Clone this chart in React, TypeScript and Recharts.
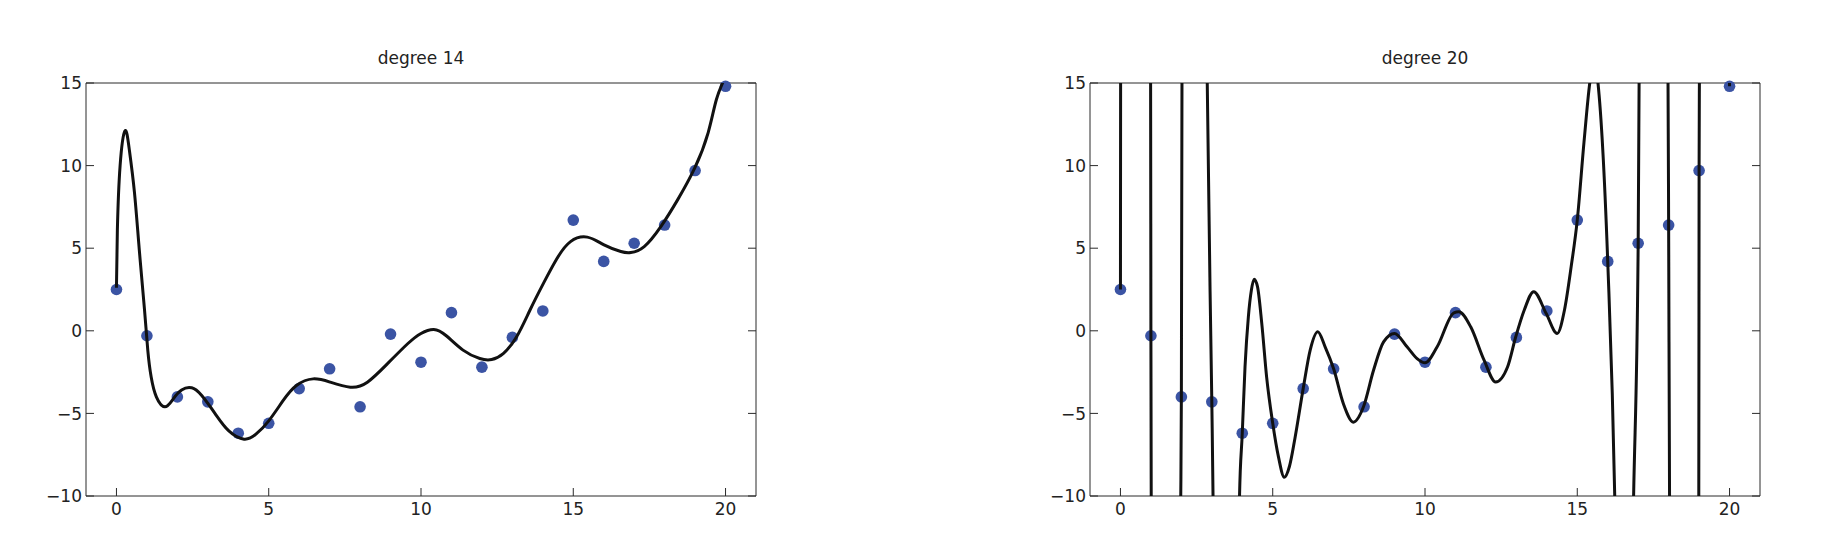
import React from "react";
import { ComposedChart, Line, Scatter, XAxis, YAxis } from "recharts";

// sample points (same in both panels)
const sampleX = [0, 1, 2, 3, 4, 5, 6, 7, 8, 9, 10, 11, 12, 13, 14, 15, 16, 17, 18, 19, 20];
const sampleY = [2.5, -0.3, -4.0, -4.3, -6.2, -5.6, -3.5, -2.3, -4.6, -0.2, -1.9, 1.1, -2.2, -0.4, 1.2, 6.7, 4.2, 5.3, 6.4, 9.7, 14.8];

// fitted curves as [x, y]; values past the frame are off-screen excursions
const fit14: [number, number][] = [
  [0, 2.6], [0.03, 6.1], [0.12, 10.0], [0.28, 12.1], [0.42, 11.0], [0.59, 8.4], [0.75, 4.9],
  [0.92, 1.3], [1.03, -1.2], [1.14, -2.8], [1.31, -4.0], [1.59, -4.6], [1.86, -4.13],
  [2.14, -3.58], [2.47, -3.45], [2.8, -3.92], [3.25, -5.04], [3.69, -6.06], [4.19, -6.56],
  [4.58, -6.26], [5.0, -5.45], [5.47, -4.23], [5.91, -3.31], [6.46, -2.91], [7.02, -3.11],
  [7.68, -3.41], [8.24, -3.11], [8.9, -1.99], [9.57, -0.77], [10.0, -0.16], [10.42, 0.08],
  [10.83, -0.3], [11.38, -1.17], [11.93, -1.68], [12.32, -1.74], [12.7, -1.38], [13.14, -0.36],
  [13.58, 1.26], [14.02, 2.87], [14.47, 4.39], [14.91, 5.4], [15.46, 5.67], [16.01, 5.2],
  [16.56, 4.8], [16.89, 4.74], [17.33, 5.1], [17.88, 6.32], [18.43, 7.94], [18.99, 9.86],
  [19.43, 12.0], [19.7, 14.0], [20, 15.4],
];

const fit20: [number, number][] = [
  [0, 2.5], [0.005, 15], [0.01, 17], [0.98, 17], [0.99, 15], [1.0, -0.3], [1.01, -10], [1.02, -12],
  [1.97, -12], [1.98, -10], [2.0, -4.0], [2.02, 15], [2.03, 17], [2.84, 17], [2.85, 15],
  [3.0, -4.3], [3.04, -10], [3.05, -12], [3.89, -12], [3.91, -10], [4.0, -6.2], [4.09, -2.19],
  [4.2, 0.85], [4.3, 2.47], [4.39, 3.12], [4.5, 2.67], [4.64, 0.45], [4.8, -2.8], [5.0, -5.6],
  [5.19, -7.65], [5.38, -8.87], [5.55, -8.2], [5.73, -6.5], [6.0, -3.5], [6.23, -1.17],
  [6.48, -0.06], [6.72, -0.97], [7.0, -2.3], [7.32, -4.41], [7.65, -5.53], [7.98, -4.6],
  [8.31, -2.39], [8.64, -0.67], [9.0, -0.16], [9.41, -0.97], [9.74, -1.68], [10.0, -1.94],
  [10.4, -0.97], [10.95, 1.09], [11.11, 1.15], [11.5, 0.24], [11.94, -1.78], [12.32, -3.1],
  [12.71, -2.19], [12.98, -0.36], [13.26, 1.26], [13.57, 2.37], [13.98, 1.05], [14.34, -0.16],
  [14.58, 1.26], [14.8, 3.89], [15.0, 6.7], [15.22, 11.4], [15.41, 15], [15.55, 16.5],
  [15.68, 15], [16.0, 4.2], [16.23, -10], [16.25, -12], [16.83, -12], [16.85, -10], [17.0, 5.3],
  [17.03, 15], [17.04, 17], [17.96, 17], [17.98, 15], [18.0, 6.4], [18.03, -10], [18.04, -12],
  [18.97, -12], [18.99, -10], [19.0, 9.7], [19.01, 15], [19.02, 17], [19.99, 17], [20, 14.8],
];

const xTicks = [0, 5, 10, 15, 20];
const yTicks = [-10, -5, 0, 5, 10, 15];

const font = "'DejaVu Sans', Verdana, sans-serif";
const axisColor = "#2a2a2a";
const textColor = "#222";
const dotColor = "#3b54a4";

const fmt = (v: number) => (v < 0 ? "\u2212" + Math.abs(v) : String(v));

const LeftTick = (props: any) => {
  const { x, y, payload } = props;
  return (
    <g>
      <line x1={x + 4} x2={x + 12} y1={y} y2={y} stroke={axisColor} strokeWidth={1} />
      <text x={x} y={y} dy="0.36em" textAnchor="end" fontSize={17} fill={textColor} fontFamily={font}>
        {fmt(payload.value)}
      </text>
    </g>
  );
};

const BottomTick = (props: any) => {
  const { x, y, payload } = props;
  return (
    <g>
      <line x1={x} x2={x} y1={y - 7} y2={y - 15} stroke={axisColor} strokeWidth={1} />
      <text x={x} y={y} dy="0.73em" textAnchor="middle" fontSize={17} fill={textColor} fontFamily={font}>
        {fmt(payload.value)}
      </text>
    </g>
  );
};

const TopTick = (props: any) => {
  const { x, y } = props;
  return <line x1={x} x2={x} y1={y} y2={y + 8} stroke={axisColor} strokeWidth={1} />;
};

const RightTick = (props: any) => {
  const { x, y } = props;
  return <line x1={x} x2={x - 8} y1={y} y2={y} stroke={axisColor} strokeWidth={1} />;
};

const Dot = (props: any) => {
  const { cx, cy } = props;
  if (cx == null || cy == null) return null;
  return <circle cx={cx} cy={cy} r={5.8} fill={dotColor} />;
};

type PanelProps = {
  left: number;
  title: string;
  curve: [number, number][];
  curveType: "natural" | "monotone";
};

function Panel({ left, title, curve, curveType }: PanelProps) {
  const points = sampleX.map((x, i) => ({ x, y: sampleY[i] }));
  const lineData = curve.map(([x, y]) => ({ x, y }));
  const axisLine = { stroke: axisColor, strokeWidth: 1 };

  return (
    <div style={{ position: "absolute", left, top: 0, width: 780, height: 552 }}>
      <ComposedChart width={780} height={552} margin={{ top: 82, right: 24, bottom: 26, left: 45 }}>
        <XAxis
          xAxisId="bottom"
          type="number"
          dataKey="x"
          domain={[-1, 21]}
          ticks={xTicks}
          height={30}
          tickSize={0}
          tickMargin={7}
          tickLine={false}
          axisLine={axisLine}
          tick={<BottomTick />}
          interval={0}
        />
        <XAxis
          xAxisId="top"
          orientation="top"
          type="number"
          dataKey="x"
          domain={[-1, 21]}
          ticks={xTicks}
          height={1}
          tickSize={0}
          tickMargin={0}
          tickLine={false}
          axisLine={axisLine}
          tick={<TopTick />}
          interval={0}
        />
        <YAxis
          yAxisId="left"
          type="number"
          domain={[-10, 15]}
          ticks={yTicks}
          allowDataOverflow
          width={40}
          tickSize={0}
          tickMargin={4}
          tickLine={false}
          axisLine={axisLine}
          tick={<LeftTick />}
          interval={0}
        />
        <YAxis
          yAxisId="right"
          orientation="right"
          type="number"
          domain={[-10, 15]}
          ticks={yTicks}
          width={1}
          tickSize={0}
          tickMargin={0}
          tickLine={false}
          axisLine={axisLine}
          tick={<RightTick />}
          interval={0}
        />
        <Scatter
          data={points}
          dataKey="y"
          xAxisId="bottom"
          yAxisId="right"
          shape={<Dot />}
          isAnimationActive={false}
        />
        <Line
          data={lineData}
          dataKey="y"
          xAxisId="bottom"
          yAxisId="left"
          type={curveType}
          stroke="#111"
          strokeWidth={3}
          dot={false}
          activeDot={false}
          isAnimationActive={false}
          zIndex={650}
        />
      </ComposedChart>
      <div
        style={{
          position: "absolute",
          left: 85,
          width: 670,
          top: 50,
          textAlign: "center",
          fontSize: 17,
          lineHeight: "17px",
          fontFamily: font,
          color: textColor,
        }}
      >
        {title}
      </div>
    </div>
  );
}

export default function App() {
  return (
    <div style={{ position: "absolute", left: 0, top: 0, width: 1828, height: 552, background: "#fff" }}>
      <Panel left={1} title="degree 14" curve={fit14} curveType="natural" />
      <Panel left={1005} title="degree 20" curve={fit20} curveType="monotone" />
    </div>
  );
}
